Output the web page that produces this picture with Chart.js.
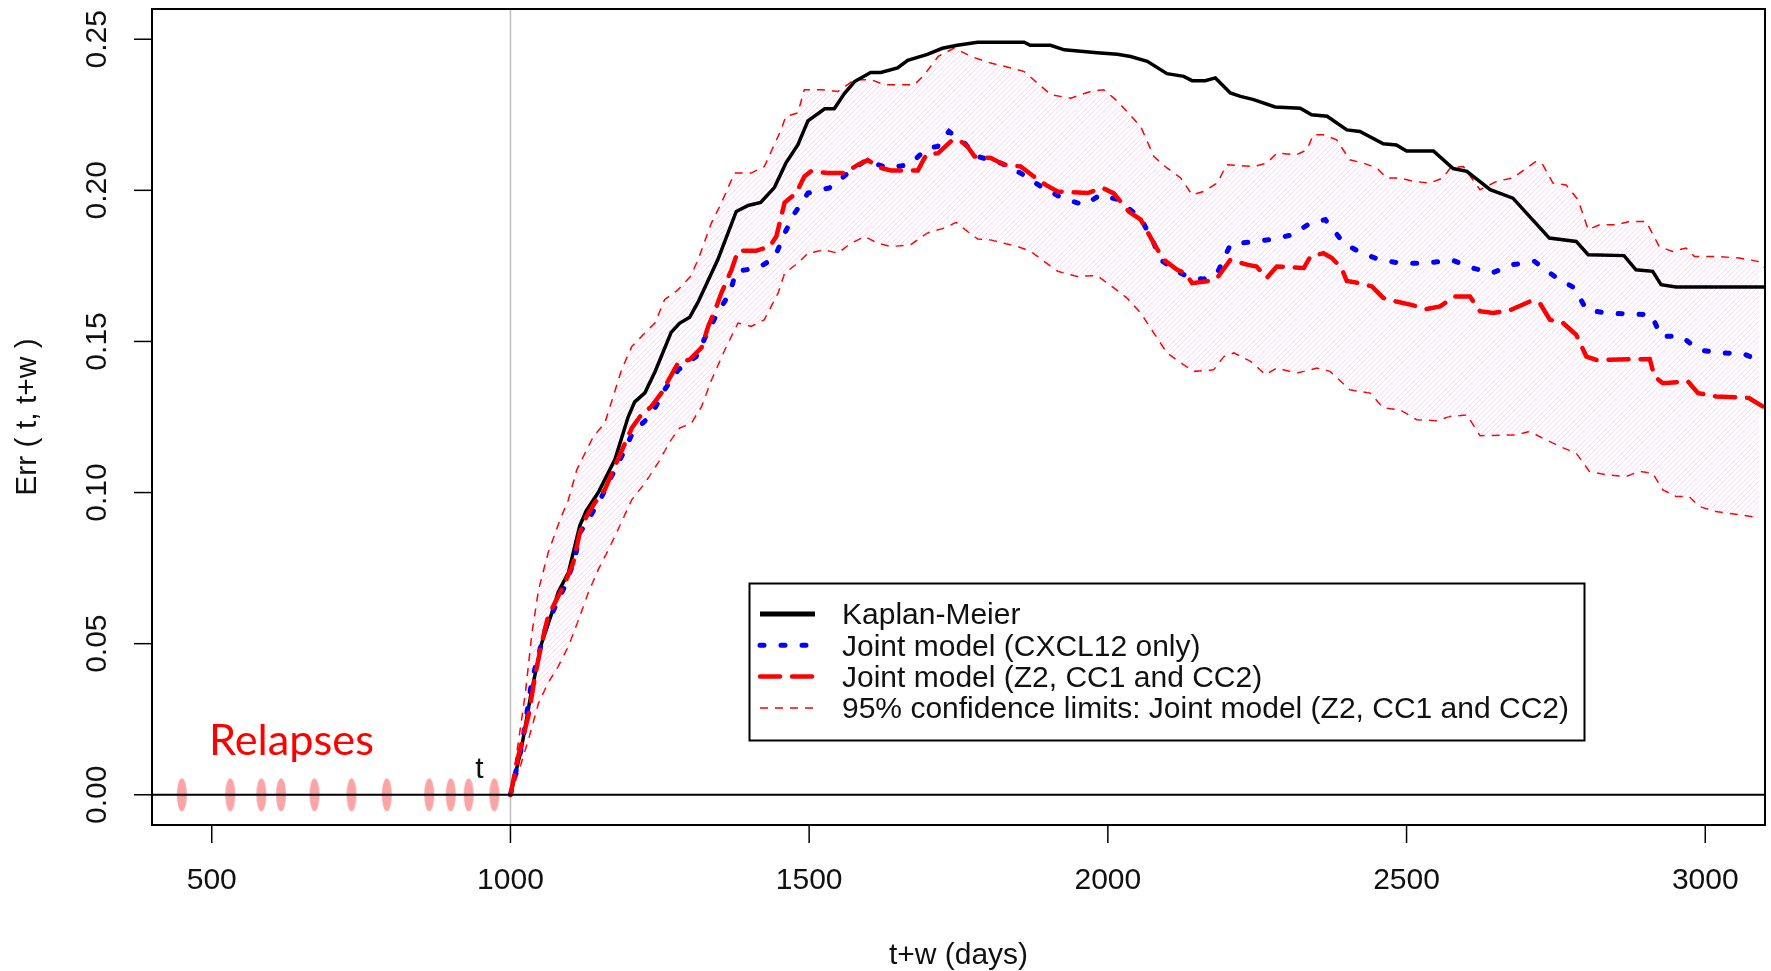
<!DOCTYPE html>
<html>
<head>
<meta charset="utf-8">
<script src="https://cdn.jsdelivr.net/npm/chart.js@4.4.1/dist/chart.umd.min.js"></script>
<style>
  html, body { margin: 0; padding: 0; background: #ffffff; }
  #wrap { width: 1771px; height: 971px; }
</style>
</head>
<body>
<div id="wrap"><canvas id="c" width="1771" height="971"></canvas></div>
<script>
// ---------------- data ----------------
const xTickValues = [500, 1000, 1500, 2000, 2500, 3000];
const xTickLabels = ['500', '1000', '1500', '2000', '2500', '3000'];
const yTickValues = [0, 0.05, 0.10, 0.15, 0.20, 0.25];
const yTickLabels = ['0.00', '0.05', '0.10', '0.15', '0.20', '0.25'];
const xTitle = 't+w (days)';
const yTitle = 'Err ( t, t+w )';
const landmarkDay = 1000;
const relapseDays = [450, 531, 583, 616, 672, 734, 793, 864, 900, 930, 973];

const kmDays = [1000,1018,1035,1052,1069,1080,1097,1116,1127,1147,1175,1197,1208,1225,1242,1269,1283,1300,1314,1347,1378,1398,1419,1442,1461,1481,1498,1526,1542,1559,1576,1603,1620,1648,1665,1698,1723,1748,1782,1860,1870,1904,1927,1982,2016,2038,2066,2099,2127,2141,2163,2180,2205,2222,2244,2280,2322,2341,2367,2400,2422,2461,2483,2500,2545,2578,2601,2640,2678,2739,2784,2804,2864,2884,2912,2926,2951,3100];
const kmErr  = [0,0.015,0.034,0.050,0.060,0.067,0.0735,0.089,0.094,0.100,0.111,0.125,0.130,0.133,0.140,0.153,0.156,0.158,0.163,0.177,0.193,0.195,0.196,0.201,0.209,0.215,0.223,0.227,0.227,0.232,0.236,0.239,0.239,0.2405,0.243,0.245,0.247,0.248,0.249,0.249,0.248,0.248,0.2465,0.2455,0.245,0.2443,0.2427,0.2386,0.2377,0.2363,0.2363,0.2372,0.2322,0.2311,0.230,0.2276,0.2272,0.225,0.2245,0.220,0.2195,0.2154,0.215,0.213,0.213,0.2072,0.2063,0.2002,0.1974,0.1842,0.1831,0.1787,0.1784,0.1737,0.1732,0.1688,0.168,0.168];

const cxclDays = [1000,1019,1036,1058,1075,1091,1108,1116,1130,1153,1169,1189,1205,1236,1258,1281,1311,1328,1345,1367,1378,1414,1442,1459,1476,1498,1534,1565,1595,1631,1668,1698,1715,1734,1760,1782,1821,1854,1888,1924,1960,1988,2016,2055,2077,2088,2116,2133,2160,2183,2205,2244,2272,2309,2339,2364,2395,2425,2456,2489,2534,2575,2612,2642,2678,2714,2748,2781,2801,2834,2910,2926,2960,2988,3021,3063,3094];
const cxclErr  = [0,0.016,0.038,0.0546,0.0623,0.069,0.078,0.0866,0.091,0.0987,0.1053,0.1131,0.120,0.1257,0.134,0.1406,0.145,0.1522,0.1588,0.166,0.1732,0.1743,0.1776,0.1858,0.1925,0.1991,0.2008,0.2057,0.210,0.2074,0.2085,0.214,0.2145,0.2195,0.2156,0.2112,0.209,0.2057,0.2013,0.1974,0.1952,0.1985,0.197,0.1908,0.1825,0.177,0.1732,0.1715,0.1706,0.1726,0.182,0.1831,0.1837,0.1853,0.1892,0.1903,0.1825,0.1792,0.177,0.1759,0.1759,0.177,0.1742,0.1726,0.1754,0.1765,0.1715,0.1677,0.1605,0.1594,0.1588,0.1517,0.1517,0.1473,0.1462,0.146,0.1434];

const z2Days = [1000,1013,1030,1041,1052,1063,1077,1091,1105,1116,1127,1141,1158,1172,1192,1203,1217,1236,1253,1264,1281,1300,1320,1331,1342,1353,1370,1381,1411,1434,1445,1459,1478,1492,1503,1531,1559,1582,1598,1620,1637,1682,1696,1716,1740,1754,1765,1777,1804,1826,1854,1876,1896,1916,1966,1991,2010,2035,2055,2080,2094,2116,2130,2141,2166,2183,2205,2233,2249,2266,2283,2328,2339,2361,2375,2391,2400,2422,2442,2461,2483,2508,2533,2556,2581,2606,2623,2645,2673,2706,2723,2740,2762,2784,2801,2818,2907,2915,2929,2971,2988,3018,3073,3096];
const z2Err  = [0,0.0127,0.026,0.039,0.050,0.059,0.0645,0.070,0.0767,0.0866,0.092,0.0965,0.101,0.1075,0.1164,0.1213,0.1252,0.1285,0.133,0.137,0.143,0.144,0.148,0.155,0.160,0.166,0.1737,0.180,0.180,0.1814,0.1847,0.196,0.199,0.2046,0.2063,0.2057,0.2057,0.2085,0.210,0.2074,0.2066,0.2066,0.2118,0.2123,0.2167,0.2162,0.2145,0.2112,0.2107,0.2085,0.2079,0.2046,0.2018,0.1996,0.1991,0.2008,0.199,0.193,0.1903,0.1814,0.177,0.1737,0.1726,0.1693,0.1699,0.171,0.177,0.1754,0.1748,0.171,0.1748,0.1743,0.1781,0.1792,0.1776,0.1743,0.170,0.1693,0.1682,0.1644,0.1632,0.1621,0.1607,0.1616,0.1649,0.1649,0.160,0.1594,0.1603,0.1632,0.1627,0.1572,0.1561,0.1522,0.145,0.1439,0.1442,0.1384,0.1362,0.1368,0.1329,0.1318,0.1313,0.1285];

const upperDays = [1000,1013,1025,1036,1047,1063,1083,1097,1111,1125,1139,1158,1172,1186,1203,1225,1242,1258,1280,1301,1314,1336,1353,1375,1403,1425,1453,1461,1481,1492,1520,1548,1576,1604,1626,1676,1693,1716,1743,1771,1804,1838,1860,1882,1905,1938,1971,1993,2013,2032,2055,2077,2099,2122,2141,2160,2183,2199,2244,2266,2283,2316,2333,2344,2361,2383,2405,2428,2450,2467,2489,2511,2539,2561,2573,2595,2623,2651,2678,2701,2717,2728,2745,2767,2787,2804,2823,2851,2873,2901,2923,2945,2968,2982,3018,3057,3088,3100];
const upperErr  = [0,0.0171,0.0337,0.0535,0.0678,0.080,0.091,0.0976,0.1075,0.1131,0.1186,0.123,0.1318,0.1406,0.1483,0.1528,0.1561,0.1638,0.167,0.1714,0.177,0.189,0.1958,0.2057,0.2057,0.2079,0.220,0.2245,0.2256,0.2333,0.2333,0.2327,0.2366,0.2366,0.2349,0.2349,0.2383,0.2443,0.2471,0.2443,0.2421,0.2405,0.2393,0.2355,0.2316,0.2305,0.2327,0.2333,0.230,0.2261,0.2211,0.2112,0.2074,0.2041,0.1985,0.1996,0.2024,0.2085,0.2079,0.209,0.2123,0.2118,0.2134,0.2184,0.2184,0.2167,0.2101,0.209,0.2074,0.2041,0.2041,0.203,0.2024,0.2041,0.2074,0.2079,0.2002,0.203,0.2041,0.2074,0.2096,0.2085,0.2024,0.2018,0.1969,0.187,0.1886,0.1886,0.1897,0.1897,0.1814,0.1798,0.1809,0.1781,0.1781,0.1776,0.1765,0.1743];

const lowerDays = [1000,1013,1030,1047,1063,1080,1097,1114,1130,1147,1164,1180,1203,1225,1247,1269,1283,1303,1320,1336,1359,1381,1403,1425,1448,1459,1481,1498,1526,1548,1570,1593,1615,1637,1670,1698,1726,1746,1765,1782,1804,1826,1849,1871,1893,1916,1949,1982,2010,2032,2055,2077,2099,2122,2144,2177,2194,2211,2239,2264,2283,2316,2350,2372,2405,2439,2461,2489,2517,2550,2573,2601,2623,2684,2706,2728,2756,2784,2806,2834,2867,2890,2912,2929,2951,2973,2990,3018,3057,3090];
const lowerErr  = [0,0.0072,0.0182,0.0303,0.037,0.0425,0.0491,0.0579,0.0667,0.0745,0.0811,0.0877,0.0976,0.1031,0.1098,0.1175,0.1213,0.123,0.1285,0.137,0.1473,0.1561,0.155,0.1572,0.166,0.1726,0.1759,0.1792,0.1803,0.1792,0.1825,0.1847,0.1825,0.1814,0.182,0.1859,0.1875,0.1894,0.1864,0.1839,0.1836,0.1825,0.1814,0.1798,0.1765,0.1732,0.1715,0.1718,0.1677,0.1644,0.1594,0.1528,0.1462,0.1429,0.1401,0.1406,0.145,0.1462,0.1434,0.139,0.1412,0.1395,0.1412,0.1401,0.134,0.1329,0.128,0.1274,0.1241,0.1238,0.1252,0.1257,0.1188,0.1191,0.1202,0.118,0.1153,0.113,0.107,0.1059,0.1053,0.107,0.1064,0.1009,0.0987,0.0987,0.0954,0.0937,0.0927,0.0916];

// ---------------- helpers ----------------
function pts(xs, ys) { return xs.map((v, i) => ({ x: v, y: ys[i] })); }

function hatchPattern() {
  const s = 5;
  const cv = document.createElement('canvas');
  cv.width = s; cv.height = s;
  const g = cv.getContext('2d');
  g.strokeStyle = 'rgba(250,160,235,0.42)';
  g.lineWidth = 1;
  g.beginPath();
  g.moveTo(0, s); g.lineTo(s, 0);
  g.moveTo(-1, 1); g.lineTo(1, -1);
  g.moveTo(s - 1, s + 1); g.lineTo(s + 1, s - 1);
  g.stroke();
  return g.createPattern(cv, 'repeat');
}

function ellipseMarker() {
  const cv = document.createElement('canvas');
  cv.width = 12; cv.height = 36;
  const g = cv.getContext('2d');
  g.fillStyle = 'rgba(248,155,155,0.9)';
  g.beginPath();
  g.ellipse(6, 18, 5, 16.5, 0, 0, Math.PI * 2);
  g.fill();
  return cv;
}

const FONT = '"Liberation Sans", Arial, Helvetica, sans-serif';

const legendRows = [
  { ds: 2, text: 'Kaplan-Meier' },
  { ds: 1, text: 'Joint model (CXCL12 only)' },
  { ds: 0, text: 'Joint model (Z2, CC1 and CC2)' },
  { ds: 3, text: '95% confidence limits: Joint model (Z2, CC1 and CC2)' }
];

const rPlot = {
  id: 'rPlot',
  beforeDatasetsDraw(chart) {
    const { ctx, chartArea: a, scales: { x } } = chart;
    ctx.save();
    ctx.strokeStyle = '#bdbdbd';
    ctx.lineWidth = 1.5;
    const gx = x.getPixelForValue(landmarkDay);
    ctx.beginPath(); ctx.moveTo(gx, a.top); ctx.lineTo(gx, a.bottom); ctx.stroke();
    ctx.restore();
  },
  afterDatasetsDraw(chart) {
    const { ctx, chartArea: a, scales: { x, y } } = chart;
    ctx.save();
    // horizontal reference line at 0
    const y0 = y.getPixelForValue(0);
    ctx.strokeStyle = '#000'; ctx.lineWidth = 2;
    ctx.beginPath(); ctx.moveTo(a.left, y0); ctx.lineTo(a.right, y0); ctx.stroke();

    // box
    ctx.lineWidth = 2;
    ctx.strokeRect(a.left, a.top, a.right - a.left, a.bottom - a.top);

    // x axis ticks + labels
    ctx.fillStyle = '#111';
    ctx.font = '30px ' + FONT;
    ctx.textAlign = 'center';
    ctx.textBaseline = 'middle';
    ctx.lineWidth = 1.5;
    xTickValues.forEach((v, i) => {
      const px = x.getPixelForValue(v);
      ctx.beginPath(); ctx.moveTo(px, a.bottom); ctx.lineTo(px, a.bottom + 18); ctx.stroke();
      ctx.fillText(xTickLabels[i], px, a.bottom + 56);
    });
    // y axis ticks + labels (rotated like R)
    yTickValues.forEach((v, i) => {
      const py = y.getPixelForValue(v);
      ctx.beginPath(); ctx.moveTo(a.left - 18, py); ctx.lineTo(a.left, py); ctx.stroke();
      ctx.save();
      ctx.translate(a.left - 54, py);
      ctx.rotate(-Math.PI / 2);
      ctx.fillText(yTickLabels[i], 0, 0);
      ctx.restore();
    });
    // axis titles
    ctx.fillText(xTitle, (a.left + a.right) / 2, a.bottom + 131);
    ctx.save();
    ctx.translate(28, (a.top + a.bottom) / 2);
    ctx.rotate(-Math.PI / 2);
    ctx.fillText(yTitle, 0, 0);
    ctx.restore();

    // "t" label near landmark
    ctx.textBaseline = 'alphabetic';
    ctx.fillText('t', x.getPixelForValue(948), y.getPixelForValue(0.0056));

    // "Relapses" annotation
    ctx.fillStyle = '#ff0000';
    ctx.textAlign = 'left';
    const relFontBase = 40;
    ctx.font = relFontBase + 'px Lato, "Open Sans", sans-serif';
    const w = ctx.measureText('Relapses').width;
    const fs = relFontBase * 165 / w;
    ctx.font = fs.toFixed(1) + 'px Lato, "Open Sans", sans-serif';
    ctx.fillText('Relapses', 209, 755);

    // legend
    const lx = 749.5, ly = 583.5, lw = 835, lh = 157;
    ctx.fillStyle = '#fff';
    ctx.fillRect(lx, ly, lw, lh);
    ctx.strokeStyle = '#000';
    ctx.lineWidth = 2;
    ctx.setLineDash([]);
    ctx.strokeRect(lx, ly, lw, lh);
    ctx.font = '30px ' + FONT;
    ctx.fillStyle = '#111';
    ctx.textBaseline = 'middle';
    legendRows.forEach((row, i) => {
      const ds = chart.data.datasets[row.ds];
      const ry = 614 + i * 31.3;
      ctx.save();
      ctx.strokeStyle = ds.borderColor;
      ctx.lineWidth = ds.borderWidth + (row.ds === 2 ? 1.5 : 0);
      ctx.lineCap = ds.borderCapStyle || 'butt';
      ctx.setLineDash(ds.borderDash || []);
      ctx.beginPath(); ctx.moveTo(760, ry); ctx.lineTo(815, ry); ctx.stroke();
      ctx.restore();
      ctx.fillText(row.text, 842, ry + 2);
    });
    ctx.restore();
  }
};

const ctx = document.getElementById('c').getContext('2d');
new Chart(ctx, {
  type: 'line',
  data: {
    datasets: [
      { label: 'Joint model (Z2, CC1 and CC2)', data: pts(z2Days, z2Err),
        borderColor: '#ff0000', borderWidth: 4.5, borderDash: [20, 12], borderCapStyle: 'round',
        pointRadius: 0, fill: false, tension: 0 },
      { label: 'Joint model (CXCL12 only)', data: pts(cxclDays, cxclErr),
        borderColor: '#0000ff', borderWidth: 5, borderDash: [4, 17], borderCapStyle: 'round',
        pointRadius: 0, fill: false, tension: 0 },
      { label: 'Kaplan-Meier', data: pts(kmDays, kmErr),
        borderColor: '#000000', borderWidth: 3.5, borderCapStyle: 'butt',
        pointRadius: 0, fill: false, tension: 0 },
      { label: '95% confidence limits: Joint model (Z2, CC1 and CC2)', data: pts(upperDays, upperErr),
        borderColor: '#ff0000', borderWidth: 1.5, borderDash: [8, 7], borderCapStyle: 'butt',
        pointRadius: 0, fill: '+1', backgroundColor: hatchPattern(), tension: 0 },
      { label: 'lower', data: pts(lowerDays, lowerErr),
        borderColor: '#ff0000', borderWidth: 1.5, borderDash: [8, 7], borderCapStyle: 'butt',
        pointRadius: 0, fill: false, tension: 0 },
      { label: 'Relapses', data: relapseDays.map(d => ({ x: d, y: 0 })),
        showLine: false, pointStyle: ellipseMarker(), pointRadius: 5, pointHoverRadius: 5,
        borderColor: 'rgba(0,0,0,0)', backgroundColor: 'rgba(0,0,0,0)' }
    ]
  },
  options: {
    responsive: false,
    animation: false,
    devicePixelRatio: 1,
    layout: { padding: { left: 152, right: 3, top: 9, bottom: 146 } },
    plugins: { legend: { display: false }, tooltip: { enabled: false }, filler: { propagate: false } },
    scales: {
      x: { type: 'linear', min: 400, max: 3100, display: false },
      y: { type: 'linear', min: -0.01, max: 0.26, display: false }
    }
  },
  plugins: [rPlot]
});
</script>
</body>
</html>
